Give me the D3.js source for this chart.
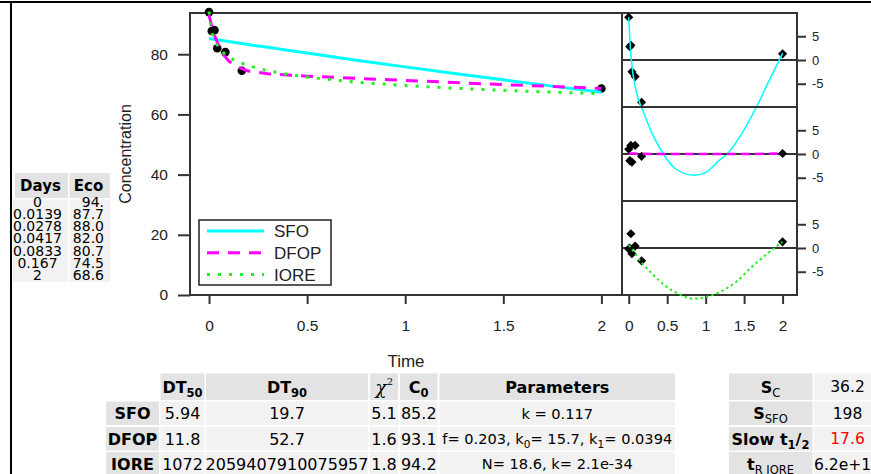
<!DOCTYPE html>
<html lang="en">
<head>
<meta charset="UTF-8">
<title></title>
<script src="https://d3js.org/d3.v7.min.js"></script>
<style>
  body { margin: 0; background: #fff; overflow: hidden; }
  svg { display: block; }
</style>
</head>
<body>
<svg width="871" height="474"></svg>
<script>
// observed data
const days = [0, 0.0139, 0.0278, 0.0417, 0.0833, 0.167, 2];
const dayLabels = ["0", "0.0139", "0.0278", "0.0417", "0.0833", "0.167", "2"];
const eco = [94, 87.7, 88.0, 82.0, 80.7, 74.5, 68.6];
const ecoLabels = ["94.", "87.7", "88.0", "82.0", "80.7", "74.5", "68.6"];

// fitted curves
const fitTime = [0, 0.01, 0.02, 0.03, 0.05, 0.075, 0.1, 0.125, 0.15, 0.2, 0.3, 0.4, 0.5, 0.75, 1, 1.25, 1.5, 1.75, 2];
const sfoFit  = [85.2, 85.1, 85.0, 84.9, 84.7, 84.5, 84.2, 84.0, 83.7, 83.2, 82.3, 81.3, 80.4, 78.0, 75.8, 73.6, 71.5, 69.4, 67.4];
const dfopFit = [93.1, 90.3, 88.0, 85.9, 82.7, 79.8, 77.8, 76.5, 75.6, 74.4, 73.5, 73.1, 72.7, 72.0, 71.3, 70.6, 69.9, 69.3, 68.6];
const ioreFit = [94.2, 88.4, 85.9, 84.2, 82.1, 80.4, 79.1, 78.2, 77.4, 76.2, 74.5, 73.3, 72.4, 70.7, 69.6, 68.7, 68.0, 67.4, 66.9];

// residuals per model
const sfoResid  = [9.0, 2.8, 3.1, -2.5, -3.5, -8.9, 1.3];
const dfopResid = [1.0, -1.4, 1.8, -1.7, 1.8, -0.5, 0.1];
const ioreResid = [-0.2, 0.0, 3.0, -1.2, 0.4, -2.7, 1.3];

// smoothers through the residuals
const sfoSmoothT  = [0, 0.02, 0.054, 0.117, 0.18, 0.305, 0.45, 0.6, 0.85, 1.01, 1.18, 1.28, 1.47, 1.66, 1.85, 2];
const sfoSmooth   = [9.0, 2.8, -2.8, -7.8, -10.5, -15.5, -19.8, -22.8, -24.3, -23.6, -21.1, -19.8, -15.5, -9.9, -3.5, 1.4];
const dfopSmoothT = [0, 0.5, 1, 1.5, 2];
const dfopSmooth  = [0.1, 0.0, 0.0, 0.0, 0.1];
const ioreSmoothT = [0, 0.054, 0.158, 0.304, 0.471, 0.638, 0.846, 1.01, 1.18, 1.39, 1.6, 1.8, 2];
const ioreSmooth  = [0.6, -0.5, -2.9, -5.4, -7.9, -9.6, -10.7, -10.3, -9.3, -7.2, -4.0, -1.2, 1.3];

// tick values
const timeTicks = [0, 0.5, 1, 1.5, 2];
const concTicks = [0, 20, 40, 60, 80];
const residTicks = [-5, 0, 5];

// result tables
const models = ["SFO", "DFOP", "IORE"];
const dt50 = ["5.94", "11.8", "1072"];
const dt90 = ["19.7", "52.7", "2059407910075957"];
const chi2 = ["5.1", "1.6", "1.8"];
const c0 = ["85.2", "93.1", "94.2"];
const params = [
  ["k = 0.117"],
  ["f= 0.203, k", ["0", "sub"], "= 15.7, k", ["1", "sub"], "= 0.0394"],
  ["N= 18.6, k= 2.1e-34"]
];
const statLabels = [
  [["S", "b"], ["C", "sub"]],
  [["S", "b"], ["SFO", "sub"]],
  [["Slow t", "b"], ["1", "subb"], ["/", "b"], ["2", "subb"]],
  [["t", "b"], ["R IORE", "sub"]]
];
const statValues = ["36.2", "198", "17.6", "6.2e+14"];

const svg = d3.select("svg");
const plotFont = "Liberation Sans, Arial, sans-serif";
const tabFont = "DejaVu Sans, Verdana, sans-serif";
const frameCol = "#333";

// page border
svg.append("line").attr("x1", 0).attr("x2", 871).attr("y1", 2).attr("y2", 2)
  .attr("stroke", "#000").attr("stroke-width", 2);
svg.append("line").attr("x1", 11).attr("x2", 11).attr("y1", 2).attr("y2", 474)
  .attr("stroke", "#000").attr("stroke-width", 2);

// main panel
const plotTop = 13, plotBottom = 295;
const x = d3.scaleLinear().domain([-0.097, 2.105]).range([190, 622]);
const y = d3.scaleLinear().domain([0, 93.7]).range([plotBottom, plotTop]);

// residual panel
const xr = d3.scaleLinear().domain([-0.0875, 2.1875]).range([622, 797]);
const panelH = (plotBottom - plotTop) / 3;
const yr = d3.scaleLinear().domain([-9.9, 9.9]).range([panelH, 0]);

function styleAxis(g, size) {
  g.select(".domain").remove();
  g.selectAll(".tick line").attr("stroke", frameCol).attr("stroke-width", 2);
  g.selectAll(".tick text").attr("font-family", plotFont).attr("font-size", size).attr("fill", "#222");
}
const plain = d => String(d);

svg.append("g").attr("transform", `translate(0,${plotBottom})`)
  .call(d3.axisBottom(x).tickValues(timeTicks).tickFormat(plain).tickSize(9).tickPadding(16))
  .call(g => styleAxis(g, 15.5));
svg.append("g").attr("transform", `translate(190,0)`)
  .call(d3.axisLeft(y).tickValues(concTicks).tickFormat(plain).tickSize(12).tickPadding(10))
  .call(g => styleAxis(g, 15.5));
svg.append("g").attr("transform", `translate(0,${plotBottom})`)
  .call(d3.axisBottom(xr).tickValues(timeTicks).tickFormat(plain).tickSize(9).tickPadding(16))
  .call(g => styleAxis(g, 15.5));

// frames
svg.append("rect").attr("x", 190).attr("y", plotTop).attr("width", 432).attr("height", plotBottom - plotTop)
  .attr("fill", "none").attr("stroke", frameCol).attr("stroke-width", 2);
svg.append("rect").attr("x", 622).attr("y", plotTop).attr("width", 175).attr("height", plotBottom - plotTop)
  .attr("fill", "none").attr("stroke", frameCol).attr("stroke-width", 2);

// axis titles
svg.append("text").attr("x", 406).attr("y", 367).attr("text-anchor", "middle")
  .attr("font-family", plotFont).attr("font-size", 17).attr("fill", "#222").text("Time");
svg.append("text").attr("transform", "translate(131,154) rotate(-90)").attr("text-anchor", "middle")
  .attr("font-family", plotFont).attr("font-size", 16).attr("fill", "#222").text("Concentration");

// observed points (drawn under the curves)
const obs = days.map((d, i) => ({t: d, v: eco[i]}));
svg.append("g").selectAll("circle").data(obs).join("circle")
  .attr("cx", d => x(d.t)).attr("cy", d => y(d.v)).attr("r", 4.3).attr("fill", "#000");

const series = [
  {name: "SFO",  fit: sfoFit,  color: "#00ffff", dash: null,   rDash: null,  rW: 1.5, resid: sfoResid,  sT: sfoSmoothT,  s: sfoSmooth},
  {name: "DFOP", fit: dfopFit, color: "#ff00ff", dash: "12,9", rDash: "9,5", rW: 2.5, resid: dfopResid, sT: dfopSmoothT, s: dfopSmooth},
  {name: "IORE", fit: ioreFit, color: "#22ee22", dash: "3,8",  rDash: "2.5,3", rW: 2, resid: ioreResid, sT: ioreSmoothT, s: ioreSmooth}
];

const fitLine = d3.line().x(d => x(d[0])).y(d => y(d[1]));
series.forEach(s => {
  svg.append("path").datum(fitTime.map((t, i) => [t, s.fit[i]]))
    .attr("fill", "none").attr("stroke", s.color).attr("stroke-width", 3)
    .attr("stroke-dasharray", s.dash).attr("d", fitLine);
});

// residual panels
series.forEach((s, k) => {
  const g = svg.append("g").attr("transform", `translate(0,${plotTop + k * panelH})`);
  if (k > 0) g.append("line").attr("x1", 622).attr("x2", 797).attr("y1", 0).attr("y2", 0)
    .attr("stroke", frameCol).attr("stroke-width", 2);
  g.append("line").attr("x1", 622).attr("x2", 797).attr("y1", yr(0)).attr("y2", yr(0))
    .attr("stroke", frameCol).attr("stroke-width", 2);
  g.append("g").attr("transform", "translate(797,0)")
    .call(d3.axisRight(yr).tickValues(residTicks).tickFormat(plain).tickSize(9).tickPadding(6))
    .call(a => styleAxis(a, 13));
  g.append("g").selectAll("path").data(days.map((d, i) => [d, s.resid[i]])).join("path")
    .attr("d", d3.symbol(d3.symbolSquare, 42))
    .attr("transform", d => `translate(${xr(d[0])},${yr(d[1])}) rotate(45)`)
    .attr("fill", "#000");
  const sm = d3.line().curve(d3.curveMonotoneX).x(d => xr(d[0])).y(d => yr(d[1]));
  g.append("path").datum(s.sT.map((t, i) => [t, s.s[i]]))
    .attr("fill", "none").attr("stroke", s.color).attr("stroke-width", s.rW)
    .attr("stroke-dasharray", s.rDash).attr("d", sm);
});

// legend
const leg = svg.append("g");
leg.append("rect").attr("x", 199).attr("y", 220).attr("width", 132).attr("height", 65)
  .attr("fill", "#fff").attr("stroke", "#222").attr("stroke-width", 1.5);
series.forEach((s, i) => {
  const ly = 231 + i * 21.8;
  leg.append("line").attr("x1", 207).attr("x2", 264).attr("y1", ly).attr("y2", ly)
    .attr("stroke", s.color).attr("stroke-width", 3).attr("stroke-dasharray", s.dash);
  leg.append("text").attr("x", 274).attr("y", ly).attr("dy", "0.36em")
    .attr("font-family", plotFont).attr("font-size", 17).attr("fill", "#222").text(s.name);
});

// ---- tables ----
const headBg = "#e3e3e3", cellBg = "#f2f2f2";

function rich(g, cx, cy, parts, opt) {
  const size = opt.size;
  const t = g.append("text").attr("x", cx).attr("y", cy).attr("dy", "0.36em")
    .attr("text-anchor", opt.anchor || "middle").attr("font-family", opt.family || tabFont)
    .attr("font-size", size).attr("font-weight", opt.weight || "normal").attr("fill", opt.fill || "#000");
  parts.forEach(p => {
    const [str, st] = typeof p === "string" ? [p, ""] : p;
    const ts = t.append("tspan").text(str);
    if (st === "b") ts.attr("font-weight", "bold");
    if (st === "sub" || st === "subb") ts.attr("font-size", size * 0.72).attr("baseline-shift", -size * 0.28)
      .attr("font-weight", st === "subb" ? "bold" : "normal");
  });
  return t;
}
function cell(g, x0, x1, y0, y1, fill) {
  g.append("rect").attr("x", x0).attr("y", y0).attr("width", x1 - x0).attr("height", y1 - y0).attr("fill", fill);
}

// days table
const dt = svg.append("g");
cell(dt, 15, 68, 173, 198, headBg);
cell(dt, 69.5, 110, 173, 198, headBg);
cell(dt, 13, 68, 199.5, 282, cellBg);
cell(dt, 69.5, 110, 199.5, 282, cellBg);
rich(dt, 40.5, 186, [["Days", "b"]], {size: 15});
rich(dt, 88.5, 186, [["Eco", "b"]], {size: 15});
dayLabels.forEach((d, i) => {
  rich(dt, 37.5, 201.7 + i * 12.2, [d], {size: 14});
  rich(dt, 104, 201.7 + i * 12.2, [ecoLabels[i]], {size: 14, anchor: "end"});
});

// model table
const mt = svg.append("g");
const cols = [[160.5, 204.5], [206, 368], [370, 398], [400, 437.5], [439.5, 675]];
const rows = [[401.5, 425], [427, 450.5], [452, 476]];
const headY = [373.5, 400];
cols.forEach(c => cell(mt, c[0], c[1], headY[0], headY[1], headBg));
rows.forEach(r => {
  cell(mt, 106, 159, r[0], r[1], headBg);
  cols.forEach(c => cell(mt, c[0], c[1], r[0], r[1], cellBg));
});
const mid = a => (a[0] + a[1]) / 2;
const hy = mid(headY);
rich(mt, mid(cols[0]), hy, [["DT", "b"], ["50", "subb"]], {size: 16});
rich(mt, mid(cols[1]), hy, [["DT", "b"], ["90", "subb"]], {size: 16});
mt.append("text").attr("x", mid(cols[2]) - 3).attr("y", 394).attr("text-anchor", "middle")
  .attr("font-family", "DejaVu Serif, serif").attr("font-style", "italic").attr("font-size", 18).text("χ");
mt.append("text").attr("x", mid(cols[2]) + 6).attr("y", 385).attr("text-anchor", "middle")
  .attr("font-family", "DejaVu Serif, serif").attr("font-size", 10).text("2");
rich(mt, mid(cols[3]), hy, [["C", "b"], ["0", "subb"]], {size: 16});
rich(mt, mid(cols[4]), hy, [["Parameters", "b"]], {size: 16});
models.forEach((m, i) => {
  const ry = mid(rows[i]);
  rich(mt, 132.5, ry, [[m, "b"]], {size: 16});
  rich(mt, mid(cols[0]), ry, [dt50[i]], {size: 16});
  rich(mt, mid(cols[1]), ry, [dt90[i]], {size: 16});
  rich(mt, mid(cols[2]), ry, [chi2[i]], {size: 16});
  rich(mt, mid(cols[3]), ry, [c0[i]], {size: 16});
  rich(mt, mid(cols[4]), ry, params[i], {size: 14.6});
});

// stats table
const st = svg.append("g");
const statRows = [headY, rows[0], rows[1], rows[2]];
statRows.forEach((r, i) => {
  cell(st, 729, 812.5, r[0], r[1], headBg);
  cell(st, 814, 885, r[0], r[1], cellBg);
  rich(st, 770.5, mid(r), statLabels[i], {size: 16});
  rich(st, 847.5, mid(r), [statValues[i]], {size: 15.5, fill: i === 2 ? "#ff0000" : "#000"});
});
</script>
</body>
</html>
